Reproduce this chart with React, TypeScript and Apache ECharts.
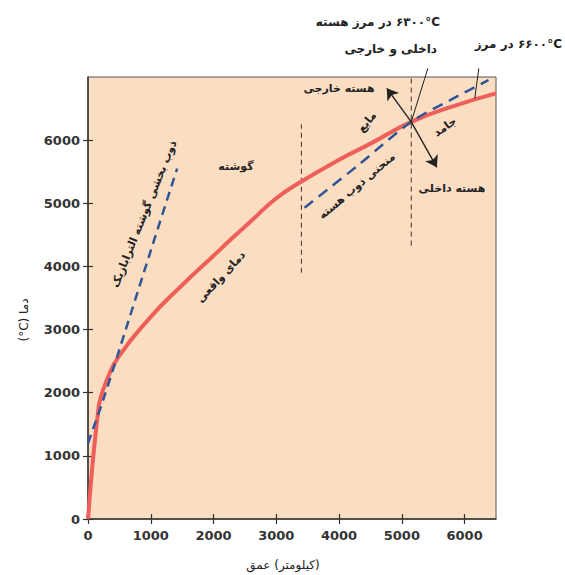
import React, { useEffect, useRef } from 'react';
import * as echarts from 'echarts';

const depthTicks = [0, 1000, 2000, 3000, 4000, 5000, 6000];
const tempTicks = [0, 1000, 2000, 3000, 4000, 5000, 6000];

// Actual temperature (geotherm)
const actualDepth = [0, 40, 80, 111, 150, 191, 300, 480, 1000, 1465, 2000, 2261, 2600, 3000, 3400, 4000, 4500, 5150, 5800, 6500];
const actualTemp = [0, 500, 950, 1250, 1600, 1880, 2200, 2560, 3200, 3670, 4170, 4414, 4720, 5080, 5345, 5690, 5945, 6290, 6530, 6740];

// Partial melting of ultramafic mantle
const mantleMeltDepth = [0, 240, 480, 1000, 1420];
const mantleMeltTemp = [1200, 1880, 2620, 4250, 5550];

// Core melting curve
const coreMeltDepth = [3450, 4300, 5150, 5800, 6380];
const coreMeltTemp = [4930, 5600, 6290, 6650, 6950];

// Boundaries (vertical dashed)
const boundaryDepth = [3400, 5150];
const boundaryTop = [6250, 7000];
const boundaryBottom = [3900, 4330];

// Arrows from inner/outer core boundary point
const arrowStart = [5150, 6290];
const arrowEnds = [
  [4761, 6820],
  [5557, 5570],
];

// Label pointer lines
const pointerLines = [
  [[5414, 7136], [5150, 6290]],
  [[6226, 7136], [6162, 6661]],
];

const FONT = '"DejaVu Sans", "Noto Sans", sans-serif';
const LRM = '\u200E';

function txt(text: string, x: number, y: number, deg = 0, size = 12, align = 'center', weight: any = 'bold') {
  return {
    type: 'text',
    x,
    y,
    rotation: (deg * Math.PI) / 180,
    z: 100,
    style: {
      text,
      fill: '#222',
      fontSize: size,
      fontWeight: weight,
      fontFamily: FONT,
      align,
      verticalAlign: 'middle',
    },
  };
}

export default function App() {
  const ref = useRef<HTMLDivElement>(null);
  useEffect(() => {
    if (!ref.current) return;
    const chart = echarts.init(ref.current, undefined, { renderer: 'svg' });
    const zip = (a: number[], b: number[]) => a.map((v, i) => [v, b[i]]);
    const axisTextStyle = {
      color: '#333',
      fontSize: 13,
      fontWeight: 'bold',
      fontFamily: FONT,
      formatter: (v: number) => String(v),
    };
    const baseX = {
      type: 'value',
      min: 0,
      max: 6500,
      interval: 1000,
      splitLine: { show: false },
    };
    const baseY = {
      type: 'value',
      min: 0,
      max: 7000,
      interval: 1000,
      splitLine: { show: false },
    };
    const tickStyle = { color: '#333', width: 1.2 };
    const option: any = {
      animation: false,
      backgroundColor: '#fff',
      grid: {
        left: 88,
        top: 77,
        right: 69,
        bottom: 56,
        show: true,
        backgroundColor: '#FBDDC2',
        borderColor: '#555',
        borderWidth: 1,
      },
      xAxis: [
        {
          ...baseX,
          position: 'bottom',
          axisLine: { show: true, lineStyle: { color: '#333', width: 1.5 } },
          axisTick: { show: true, inside: false, length: 5, lineStyle: tickStyle, customValues: depthTicks },
          axisLabel: { ...axisTextStyle, margin: 10, customValues: depthTicks },
        },
        {
          ...baseX,
          position: 'bottom',
          axisLine: { show: false },
          axisTick: { show: true, inside: true, length: 5, lineStyle: tickStyle, customValues: depthTicks },
          axisLabel: { show: false },
        },
      ],
      yAxis: [
        {
          ...baseY,
          position: 'left',
          axisLine: { show: true, lineStyle: { color: '#333', width: 1.5 } },
          axisTick: { show: true, inside: false, length: 5, lineStyle: tickStyle, customValues: tempTicks },
          axisLabel: { ...axisTextStyle, margin: 8, customValues: tempTicks },
        },
        {
          ...baseY,
          position: 'left',
          axisLine: { show: false },
          axisTick: { show: true, inside: true, length: 5, lineStyle: tickStyle, customValues: tempTicks },
          axisLabel: { show: false },
        },
      ],
      series: [
        {
          type: 'line',
          name: 'actual',
          data: zip(actualDepth, actualTemp),
          smooth: 0.5,
          showSymbol: false,
          lineStyle: { color: '#EF5F5A', width: 4 },
          z: 5,
        },
        {
          type: 'line',
          name: 'mantle-melt',
          data: zip(mantleMeltDepth, mantleMeltTemp),
          smooth: 0.3,
          showSymbol: false,
          lineStyle: { color: '#2F5597', width: 2.5, type: [9, 6] },
          z: 6,
        },
        {
          type: 'line',
          name: 'core-melt',
          data: zip(coreMeltDepth, coreMeltTemp),
          smooth: 0.3,
          showSymbol: false,
          lineStyle: { color: '#2F5597', width: 2.5, type: [11, 7] },
          z: 6,
        },
        ...boundaryDepth.map((d, i) => ({
          type: 'line',
          data: [
            [d, boundaryBottom[i]],
            [d, boundaryTop[i]],
          ],
          showSymbol: false,
          lineStyle: { color: '#333', width: 1, type: [5, 4] },
          z: 4,
        })),
        ...pointerLines.map((pts) => ({
          type: 'line',
          data: pts,
          clip: false,
          showSymbol: false,
          lineStyle: { color: '#222', width: 1 },
          z: 7,
        })),
        {
          type: 'lines',
          coordinateSystem: 'cartesian2d',
          clip: false,
          symbol: ['none', 'arrow'],
          symbolSize: 11,
          lineStyle: { color: '#222', width: 1.4, opacity: 1 },
          data: arrowEnds.map((e) => ({ coords: [arrowStart, e] })),
          z: 8,
        },
      ],
      graphic: [
        txt(LRM + 'در مرز هسته ' + LRM + '۶۳۰۰°C', 440, 22, 0, 12, 'right'),
        txt('داخلی و خارجی', 437, 49, 0, 12, 'right'),
        txt(LRM + 'در مرز ' + LRM + '۶۶۰۰°C', 562, 44, 0, 12, 'right'),
        txt('هسته خارجی', 339, 88, 0, 11),
        txt('مایع', 367, 122, 50, 11),
        txt('جامد', 445, 127, 35, 11),
        txt('هسته داخلی', 452, 188, 0, 11),
        txt('منحنی ذوب هسته', 357, 186, 40, 11),
        txt('گوشته', 236, 166, 0, 11),
        txt('دمای واقعی', 221, 277, 47, 11),
        txt('ذوب بخشی گوشته الترابازیک', 144, 214, 68, 11),
        txt('(°C) دما', 24, 320, 90, 12, 'center', 'normal'),
        txt(LRM + 'عمق' + LRM + ' (کیلومتر)', 283, 565, 0, 12, 'center', 'normal'),
      ],
    };
    chart.setOption(option);
    return () => chart.dispose();
  }, []);
  return <div ref={ref} style={{ position: 'fixed', left: 0, top: 0, width: 565, height: 575 }} />;
}
